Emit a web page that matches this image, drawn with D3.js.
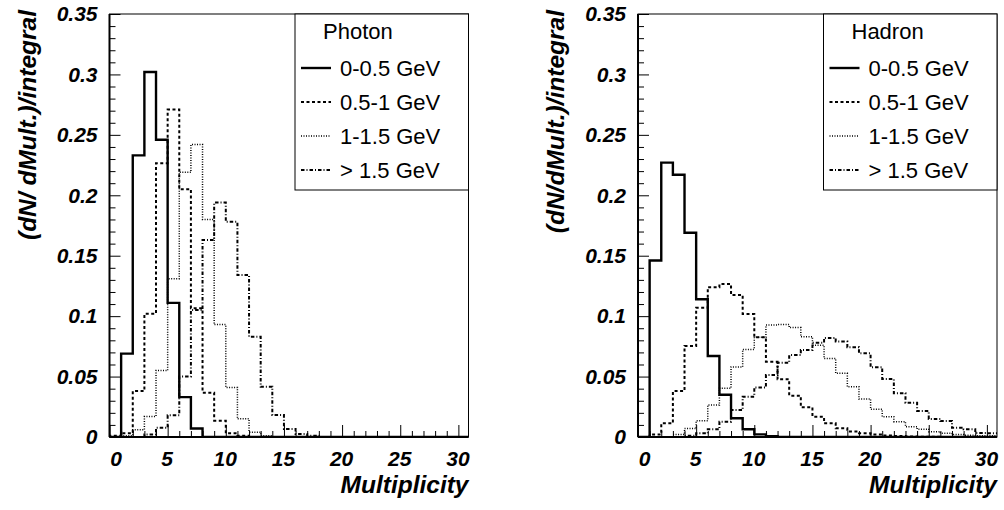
<!DOCTYPE html>
<html>
<head>
<meta charset="utf-8">
<script src="https://cdn.jsdelivr.net/npm/d3@7"></script>
<style>
  html, body { margin: 0; padding: 0; background: #fff; }
  svg { display: block; }
  text { font-family: "Liberation Sans", Arial, Helvetica, sans-serif; }
</style>
</head>
<body>
<svg id="chart" width="1004" height="510"></svg>
<script>
// ---------- data ----------
const binLow = [0,1,2,3,4,5,6,7,8,9,10,11,12,13,14,15,16,17,18,19,20,21,22,23,24,25,26,27,28,29,30];

const xTicks = [0,5,10,15,20,25,30];
const xTickLabels = ["0","5","10","15","20","25","30"];
const yTicks = [0,0.05,0.1,0.15,0.2,0.25,0.3,0.35];
const yTickLabels = ["0","0.05","0.1","0.15","0.2","0.25","0.3","0.35"];

const seriesNames = ["0-0.5 GeV","0.5-1 GeV","1-1.5 GeV","> 1.5 GeV"];

// Photon panel
const photon_0_05  = [0,0.069,0.233,0.302,0.246,0.111,0.033,0.007,0,0,0,0,0,0,0,0,0,0,0,0,0,0,0,0,0,0,0,0,0,0,0];
const photon_05_1  = [0.001,0.003,0.038,0.102,0.2265,0.271,0.205,0.1065,0.0367,0.0135,0.003,0.001,0,0,0,0,0,0,0,0,0,0,0,0,0,0,0,0,0,0,0];
const photon_1_15  = [0,0.001,0.006,0.017,0.055,0.131,0.219,0.242,0.180,0.093,0.041,0.015,0.004,0.001,0,0,0,0,0,0,0,0,0,0,0,0,0,0,0,0,0];
const photon_gt15  = [0,0,0,0.002,0.0077,0.018,0.05,0.105,0.163,0.194,0.178,0.134,0.083,0.0416,0.0182,0.0066,0.0025,0.001,0,0,0,0,0,0,0,0,0,0,0,0,0];

// Hadron panel
const hadron_0_05  = [0,0.146,0.227,0.217,0.169,0.114,0.067,0.035,0.0155,0.0064,0.0022,0.0007,0,0,0,0,0,0,0,0,0,0,0,0,0,0,0,0,0,0,0];
const hadron_05_1  = [0,0.002,0.0113,0.038,0.0753,0.107,0.124,0.1266,0.1175,0.1018,0.0825,0.0623,0.0477,0.0342,0.0246,0.0168,0.0113,0.0072,0.0045,0.003,0.002,0.0012,0.0008,0.0005,0.0003,0.0002,0.0001,0,0,0,0];
const hadron_1_15  = [0,0,0,0.002,0.007,0.0135,0.0265,0.0403,0.058,0.0725,0.0825,0.0927,0.093,0.0905,0.083,0.076,0.065,0.0527,0.0416,0.0314,0.0229,0.0168,0.0127,0.0085,0.0064,0.0044,0.003,0.002,0.0015,0.001,0.001];
const hadron_gt15  = [0,0,0,0,0.001,0.003,0.0064,0.0127,0.0223,0.0334,0.041,0.0513,0.0615,0.0678,0.072,0.078,0.082,0.079,0.0742,0.0692,0.0577,0.048,0.0361,0.0284,0.0215,0.0149,0.0132,0.0077,0.0064,0.0033,0.003];

// ---------- layout / style ----------
const svg = d3.select("#chart");
const styles = [
  { width: 2.4, dash: null },
  { width: 2.0, dash: "3,2.5" },
  { width: 1.5, dash: "1,1.5" },
  { width: 2.0, dash: "3.5,2,1,2" }
];

const panels = [
  { left: 109.5, title: "Photon", ytitle: "(dN/ dMult.)/integral", series: [photon_0_05, photon_05_1, photon_1_15, photon_gt15] },
  { left: 638,   title: "Hadron", ytitle: "(dN/dMult.)/integral",  series: [hadron_0_05, hadron_05_1, hadron_1_15, hadron_gt15] }
];

const frameW = 359, frameTop = 14, frameBottom = 437;
const xMax = 30.87;

panels.forEach((p, pi) => {
  const x = d3.scaleLinear().domain([0, xMax]).range([p.left, p.left + frameW]);
  const y = d3.scaleLinear().domain([0, 0.35]).range([frameBottom, frameTop]);
  const g = svg.append("g");

  const clipId = "clip" + pi;
  svg.append("clipPath").attr("id", clipId)
    .append("rect").attr("x", p.left).attr("y", frameTop - 2).attr("width", frameW).attr("height", frameBottom - frameTop + 2);

  g.append("rect").attr("x", p.left).attr("y", frameTop).attr("width", frameW).attr("height", frameBottom - frameTop)
    .attr("fill", "none").attr("stroke", "#000").attr("stroke-width", 1);

  const xMinor = binLow.filter(v => v % 5 !== 0);
  g.append("g").attr("transform", `translate(0,${frameBottom})`)
    .call(d3.axisBottom(x).tickValues(xMinor).tickSize(-6).tickFormat(""))
    .call(s => s.select(".domain").remove());
  const yMinor = d3.range(0, 36).map(v => v / 100).filter((v, i) => i % 5 !== 0);
  g.append("g").attr("transform", `translate(${p.left},0)`)
    .call(d3.axisLeft(y).tickValues(yMinor).tickSize(-6).tickFormat(""))
    .call(s => s.select(".domain").remove());

  const xa = g.append("g").attr("transform", `translate(0,${frameBottom})`)
    .call(d3.axisBottom(x).tickValues(xTicks).tickSize(-12).tickPadding(14)
      .tickFormat((d, i) => xTickLabels[i]));
  xa.select(".domain").attr("stroke-width", 2).attr("d", `M${p.left},0H${p.left + frameW}`);
  xa.selectAll("text").attr("font-size", 21).attr("font-weight", "bold").attr("font-style", "italic")
    .attr("fill", "#000").attr("dx", (d, i) => i === 0 ? 6 : -1);

  const ya = g.append("g").attr("transform", `translate(${p.left},0)`)
    .call(d3.axisLeft(y).tickValues(yTicks).tickSize(-11).tickPadding(12)
      .tickFormat((d, i) => yTickLabels[i]));
  ya.select(".domain").attr("stroke-width", 2).attr("d", `M0,${frameTop}V${frameBottom}`);
  ya.selectAll("text").attr("font-size", 21).attr("font-weight", "bold").attr("font-style", "italic").attr("fill", "#000");

  g.append("text").attr("x", p.left + frameW).attr("y", 493).attr("text-anchor", "end")
    .attr("font-size", 24.5).attr("font-weight", "bold").attr("font-style", "italic").text("Multiplicity");
  g.append("text").attr("transform", `translate(${p.left - 74},10) rotate(-90)`).attr("text-anchor", "end")
    .attr("font-size", 24.5).attr("font-weight", "bold").attr("font-style", "italic").text(p.ytitle);

  const line = d3.line().curve(d3.curveStepAfter).x(d => x(d[0])).y(d => y(d[1]));
  const hg = g.append("g").attr("clip-path", `url(#${clipId})`);
  p.series.forEach((vals, si) => {
    const pts = [[0, 0]].concat(binLow.map((b, i) => [b, vals[i]])).concat([[binLow[binLow.length - 1] + 1, 0]]);
    hg.append("path").attr("d", line(pts)).attr("fill", "none").attr("stroke", "#000")
      .attr("stroke-width", styles[si].width).attr("stroke-dasharray", styles[si].dash)
      .attr("stroke-linejoin", "miter");
  });

  const lx = p.left + 185.5, lw = frameW - 185.5;
  const lg = g.append("g");
  lg.append("rect").attr("x", lx).attr("y", frameTop).attr("width", lw).attr("height", 176)
    .attr("fill", "#fff").attr("stroke", "#000").attr("stroke-width", 1);
  lg.append("text").attr("x", lx + 28).attr("y", 39).attr("font-size", 22).text(p.title);
  seriesNames.forEach((name, si) => {
    const cy = 68 + si * 34;
    lg.append("line").attr("x1", lx + 6).attr("x2", lx + 36).attr("y1", cy).attr("y2", cy)
      .attr("stroke", "#000").attr("stroke-width", styles[si].width).attr("stroke-dasharray", styles[si].dash);
    lg.append("text").attr("x", lx + 45).attr("y", cy + 8).attr("font-size", 22).text(name);
  });
});
</script>
</body>
</html>
